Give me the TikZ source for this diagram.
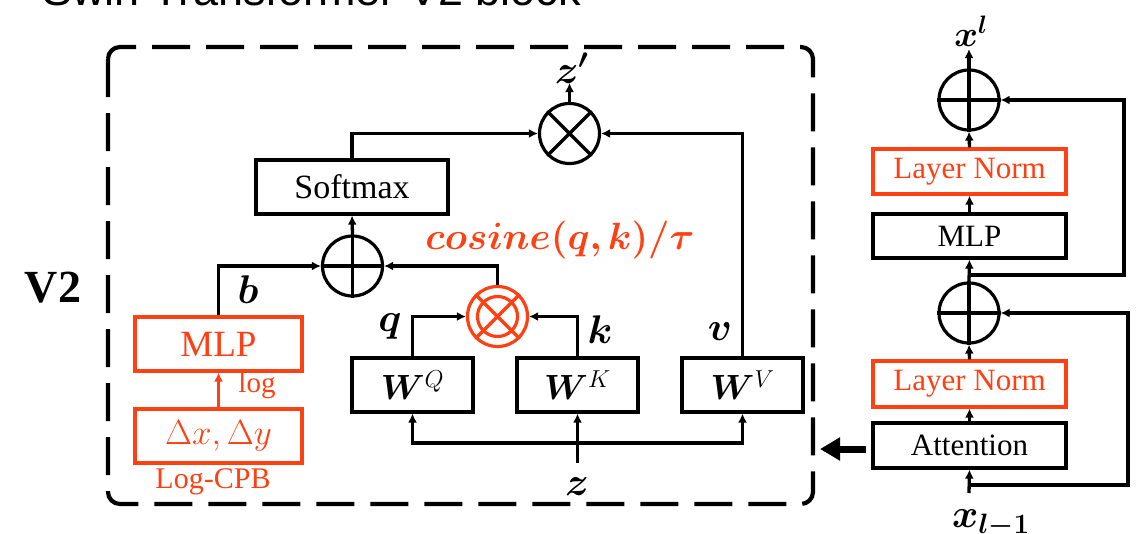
\RequirePackage{fix-cm}
\documentclass[tikz,border=0pt]{standalone}
\usepackage{fontspec}
\setmainfont{Liberation Serif}
\newfontfamily\titlefont{Liberation Sans}
\usepackage{amsmath,bm}
\usetikzlibrary{arrows.meta}
\definecolor{myred}{RGB}{255,64,19}
\begin{document}
\begin{tikzpicture}[x=1pt,y=-1pt,
  box/.style={draw, line width=3.2pt, inner sep=0pt},
  redbox/.style={box, draw=myred, text=myred},
  conn/.style={line width=3.3pt, -{Latex[length=9pt,width=9pt]}},
  opc/.style={circle, draw, line width=3.2pt, minimum size=60pt, inner sep=0pt},
  mathlab/.style={inner sep=0pt, font=\fontsize{40}{44}\selectfont},
  lab/.style={inner sep=0pt}]
\useasboundingbox (0,0) rectangle (1140,533);
% title (cut off at top)
\node[anchor=base west, inner sep=0pt, font=\titlefont\fontsize{45}{50}\selectfont] (title) at (42,5) {Swin Transformer V2 block};
% dashed frame
\draw[line width=4.2pt, dash pattern=on 38pt off 16pt, rounded corners=12pt] (108,47) rectangle (813,504);
\node[lab, font=\fontsize{46}{50}\selectfont\bfseries] (v2) at (53,288) {V2};
% attention internals
\node[box, minimum width=192pt, minimum height=54pt, font=\fontsize{34}{38}\selectfont] (soft) at (352,187) {Softmax};
\node[opc] (mul) at (569.5,133.5) {};
\draw[line width=3.2pt] (mul.45) -- (mul.225) (mul.135) -- (mul.315);
\node[opc] (plus) at (352.5,266) {};
\draw[line width=3.2pt] (plus.north) -- (plus.south) (plus.west) -- (plus.east);
\node[opc, draw=myred] (cos) at (497.5,316.5) {};
\draw[line width=3.2pt, myred] (cos.45) -- (cos.225) (cos.135) -- (cos.315);
\draw[line width=3.2pt, myred] (cos.center) circle (20pt);
\node[box, minimum width=121pt, minimum height=54pt, font=\fontsize{35}{38}\selectfont] (wq) at (412.5,385) {$\bm{W}^{Q}$};
\node[box, minimum width=121pt, minimum height=54pt, font=\fontsize{35}{38}\selectfont] (wk) at (577.5,385) {$\bm{W}^{K}$};
\node[box, minimum width=121pt, minimum height=54pt, font=\fontsize{35}{38}\selectfont] (wv) at (742.5,385) {$\bm{W}^{V}$};
\node[redbox, minimum width=167pt, minimum height=54pt, font=\fontsize{37}{40}\selectfont] (mlpr) at (218.5,344) {MLP};
\node[redbox, minimum width=167pt, minimum height=54pt, font=\fontsize{35}{38}\selectfont] (delta) at (218.5,436) {$\Delta x, \Delta y$};
\node[lab, text=myred, font=\fontsize{29}{32}\selectfont] (loglab) at (257,386) {log};
\node[lab, text=myred, font=\fontsize{30}{34}\selectfont] (cpb) at (213,482) {Log-CPB};
\node[lab, text=myred, font=\fontsize{38}{42}\selectfont] (coslab) at (560,240) {$\bm{cosine(q,k)/\tau}$};
\node[mathlab] (blab) at (248,290) {$\bm{b}$};
\node[mathlab] (qlab) at (390,326) {$\bm{q}$};
\node[mathlab] (klab) at (600,330) {$\bm{k}$};
\node[mathlab] (vlab) at (720,332) {$\bm{v}$};
\node[mathlab] (zlab) at (577,487) {$\bm{z}$};
\node[mathlab] (zplab) at (572,68) {$\bm{z'}$};
\coordinate (zpend) at (569.5,83);
\coordinate (zin) at (577.5,463);
\coordinate (zj) at (577.5,443);
% connectors
\draw[conn] (soft.north) |- (mul.west);
\draw[conn] (wv.north) |- (mul.east);
\draw[conn] (mul.north) -- (zpend);
\draw[conn] (plus.north) -- (soft.south);
\draw[conn] (mlpr.north) |- (plus.west);
\draw[conn] (cos.north) |- (plus.east);
\draw[conn] (wq.north) |- (cos.west);
\draw[conn] (wk.north) |- (cos.east);
\draw[conn] (zin) -- (wk.south);
\draw[conn] (zj) -| (wq.south);
\draw[conn] (zj) -| (wv.south);
\draw[conn, myred] (delta.north) -- (mlpr.south);
% thick arrow
\coordinate (thA) at (866,449);
\coordinate (thB) at (820,449);
\draw[line width=7pt, -{Triangle[length=20pt,width=22pt]}] (thA) -- (thB);
% right column
\node[box, minimum width=193pt, minimum height=45pt, font=\fontsize{31}{34}\selectfont] (att) at (969.5,445.5) {Attention};
\node[redbox, minimum width=193pt, minimum height=46pt, font=\fontsize{31}{34}\selectfont] (ln1) at (969.5,384) {Layer Norm};
\node[opc] (plus1) at (969,313) {};
\draw[line width=3.2pt] (plus1.north) -- (plus1.south) (plus1.west) -- (plus1.east);
\node[box, minimum width=193pt, minimum height=44pt, font=\fontsize{31}{34}\selectfont] (mlp) at (969.5,236) {MLP};
\node[redbox, minimum width=193pt, minimum height=45pt, font=\fontsize{31}{34}\selectfont] (ln2) at (969.5,171.5) {Layer Norm};
\node[opc] (plus2) at (969,100) {};
\draw[line width=3.2pt] (plus2.north) -- (plus2.south) (plus2.west) -- (plus2.east);
\coordinate (xin) at (969,493);
\coordinate (xout) at (969,49);
\coordinate (r1) at (969,485);
\coordinate (r1c) at (1128,485);
\coordinate (r2) at (969,275);
\coordinate (r2c) at (1124,275);
\draw[conn] (xin) -- (att.south);
\draw[conn] (att.north) -- (ln1.south);
\draw[conn] (ln1.north) -- (plus1.south);
\draw[conn] (plus1.north) -- (mlp.south);
\draw[conn] (mlp.north) -- (ln2.south);
\draw[conn] (ln2.north) -- (plus2.south);
\draw[conn] (plus2.north) -- (xout);
\draw[conn] (r1) -- (r1c) |- (plus1.east);
\draw[conn] (r2) -- (r2c) |- (plus2.east);
\node[lab, font=\fontsize{36}{40}\selectfont] (xl) at (971,31) {$\bm{x^{l}}$};
\node[lab, anchor=base west, font=\fontsize{40}{44}\selectfont] (xlm) at (952,527) {$\bm{x_{l-1}}$};
\end{tikzpicture}
\end{document}
